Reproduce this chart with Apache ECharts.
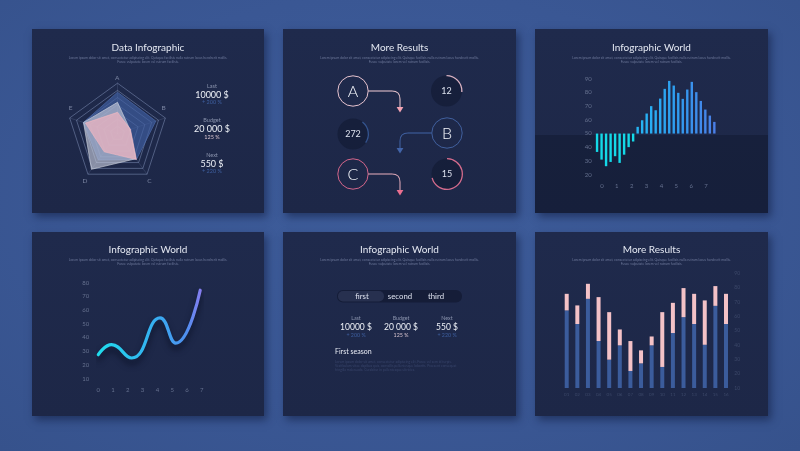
<!DOCTYPE html>
<html><head><meta charset="utf-8">
<script src="https://cdn.jsdelivr.net/npm/echarts@6/dist/echarts.min.js"></script>
<style>
html,body{margin:0;padding:0;width:800px;height:451px;overflow:hidden;background:#3b5896;}
.bg{position:absolute;left:0;top:0;width:800px;height:451px;background:radial-gradient(ellipse at 50% 45%, #3e5d9b 0%, #3a5794 60%, #36528c 100%);}
.panel{position:absolute;background:linear-gradient(180deg,#1f2a4c 0%,#1d2747 100%);box-shadow:3px 4px 8px rgba(15,25,60,0.55);}
.shade{position:absolute;background:rgba(10,15,35,0.32);}
#chart{position:absolute;left:0;top:0;width:800px;height:451px;}
</style></head><body>
<div class="bg"></div>
<div class="panel" style="left:32px;top:29px;width:232px;height:184px"></div>
<div class="panel" style="left:283px;top:29px;width:233px;height:184px"></div>
<div class="panel" style="left:535px;top:29px;width:233px;height:184px"></div>
<div class="shade" style="left:535px;top:135px;width:233px;height:78px"></div>
<div class="panel" style="left:32px;top:232px;width:232px;height:184px"></div>
<div class="panel" style="left:283px;top:232px;width:233px;height:184px"></div>
<div class="panel" style="left:535px;top:232px;width:233px;height:184px"></div>
<div id="chart"></div>
<script>
// ---------- DATA ----------
const panelTitles = ['Data Infographic','More Results','Infographic World','Infographic World','Infographic World','More Results'];
const loremLine1 = 'Lorem ipsum dolor sit amet, consectetur adipiscing elit. Quisque facilisis nulla rutrum lacus hendrerit mollis.';
const loremLine2 = 'Fusce vulputate lorem vel rutrum facilisis.';

// Panel 1 radar (indicators listed counter-clockwise from the top)
const radarIndicators = ['A','E','D','C','B'];
const radarBlue = [82, 71, 65, 64, 80];
const radarGrey = [62, 71, 88, 62, 26];
const radarPink = [42, 67, 45, 64, 27];
const statLabels = ['Last','Budget','Next'];
const statValues = ['10000 $','20 000 $','550 $'];
const statChanges = ['+ 200 %','125 %','+ 220 %'];

// Panel 2 flow
const flowLetters = ['A','B','C'];
const ringNumbers = ['12','272','15'];
const ringProgress = [26, 24, 71];

// Panel 3 wave bars
const waveValues = [36.6,31,26.2,29.3,33.5,28.6,34.6,40.1,44.2,54.9,59.7,64.6,70,67,75.5,82.6,88.4,85,79.7,75.3,82.1,87.7,80.2,73.8,67.5,63.1,58.5];
const waveBaseline = 50;

// Panel 4 line
const linePoints = [[0,27.5],[0.9,34.8],[2.26,25.1],[4.18,54.3],[5.24,36],[6.9,74.5]];

// Panel 5 tabs / stats
const tabLabels = ['first','second','third'];
const seasonTitle = 'First season';
const seasonText = ['Lorem ipsum dolor sit amet, consectetur adipiscing elit. Fusce vel sem id turpis.',
  'Vestibulum vitae dapibus quis, convallis pellentesque lobortis. Praesent consequat',
  'fringilla malesuada. Curabitur in pellentesque ultricies.'];

// Panel 6 stacked bars
const barCats = ['01','02','03','04','05','06','07','08','09','10','11','12','13','14','15','16'];
const barBlue = [64.2,54.7,72.3,42.8,29.8,39.8,21.9,27.2,39.8,24.7,48.4,59.5,54.7,40.2,67.4,54.7];
const barPink = [11.6,13.0,10.5,30.7,33.2,11.1,20.9,9.1,6.2,38.3,21.1,20.3,21.1,31.0,13.8,21.1];

// ---------- CHART ----------
const FONT = 'Lato, "Open Sans", sans-serif';
const chart = echarts.init(document.getElementById('chart'), null, {renderer:'canvas'});

function T(x, y, text, size, color, opt) {
  opt = opt || {};
  return {type:'text', x:x, y:y, z:10, silent:true,
    style:{text:text, fill:color, font:(opt.weight||'normal')+' '+size+'px '+FONT,
      align:opt.align||'center', verticalAlign:'middle', textAlign:opt.align||'center', textVerticalAlign:'middle'}};
}

const graphics = [];
// titles & lorem
const titlePos = [[148,48],[399.5,48],[651.5,48],[148,250],[399.5,250],[651.5,250]];
panelTitles.forEach((t,i) => {
  const p = titlePos[i];
  graphics.push(T(p[0], p[1], t, 10, '#e4e8f2'));
  graphics.push(T(p[0], p[1]+10, loremLine1, 3.4, '#6d789a'));
  graphics.push(T(p[0], p[1]+13.6, loremLine2, 3.4, '#6d789a'));
});

// radar letters
const radarLetterPos = {A:[117.3,77.5], B:[163.5,108], C:[149.5,180.7], D:[85,180.7], E:[70.7,108]};
radarIndicators.forEach(n => { const p = radarLetterPos[n]; graphics.push(T(p[0], p[1], n, 6.5, '#7c86a3')); });

// panel 1 stats
statLabels.forEach((l,i) => {
  const y0 = 86 + i*34.5;
  graphics.push(T(212, y0, l, 5.5, '#8a93ad'));
  graphics.push(T(212, y0+9, statValues[i], 9, '#eef1f7'));
  graphics.push(T(212, y0+16.5, statChanges[i], 5.5, i===1 ? '#d9c5cf' : '#3e5f9f'));
});

// panel 2 flow circles & arrows
const letterCircles = [{c:[353,91], stroke:'#e7c4cf'}, {c:[447,133], stroke:'#41609e'}, {c:[353,174], stroke:'#d3668b'}];
flowLetters.forEach((l,i) => {
  const lc = letterCircles[i];
  graphics.push({type:'circle', z:5, silent:true, shape:{cx:lc.c[0], cy:lc.c[1], r:15.2}, style:{fill:'rgba(0,0,0,0)', stroke:lc.stroke, lineWidth:1}});
  graphics.push(T(lc.c[0], lc.c[1]+0.5, l, 16, '#f2f4f9', {weight:'300'}));
});
const ringCenters = [[446.5,91],[353,134],[447,174]];
ringCenters.forEach(c => graphics.push({type:'circle', z:1, silent:true, shape:{cx:c[0], cy:c[1], r:15.5}, style:{fill:'rgba(14,20,42,0.45)'}}));
const arrows = [
  {x0:368.2, dir:1, y:91, line:'#e2c0ca', tri:'#f3a3b3', ty:107},
  {x0:431.8, dir:-1, y:133, line:'#3f5f9e', tri:'#4264a8', ty:148},
  {x0:368.2, dir:1, y:174, line:'#d9a4b4', tri:'#ea6f90', ty:190}
];
arrows.forEach(a => {
  const xc = 400 - a.dir*8;
  const st = {fill:null, stroke:a.line, lineWidth:1.1};
  graphics.push({type:'line', z:5, silent:true, shape:{x1:a.x0, y1:a.y, x2:xc, y2:a.y}, style:st});
  graphics.push({type:'bezierCurve', z:5, silent:true, shape:{x1:xc, y1:a.y, cpx1:400, cpy1:a.y, x2:400, y2:a.y+8}, style:st});
  graphics.push({type:'line', z:5, silent:true, shape:{x1:400, y1:a.y+8, x2:400, y2:a.ty}, style:st});
  graphics.push({type:'polygon', z:5, silent:true, shape:{points:[[396.6,a.ty],[403.4,a.ty],[400,a.ty+5.5]]}, style:{fill:a.tri}});
});

// panel 5 tabs
graphics.push({type:'rect', z:3, silent:true, shape:{x:337, y:290, width:125, height:12.5, r:6}, style:{fill:'#151d38'}});
graphics.push({type:'rect', z:4, silent:true, shape:{x:338, y:291, width:46, height:10.5, r:5}, style:{fill:'#27304f'}});
const tabX = [362, 400, 436];
tabLabels.forEach((t,i) => graphics.push(T(tabX[i], 296.2, t, 7.8, '#dde1ee')));
const stat5X = [356, 401, 447];
statLabels.forEach((l,i) => {
  graphics.push(T(stat5X[i], 318, l, 5.3, '#8a93ad'));
  graphics.push(T(stat5X[i], 327, statValues[i], 8.5, '#eef1f7'));
  graphics.push(T(stat5X[i], 335, statChanges[i], 5.3, i===1 ? '#d9c5cf' : '#3e5f9f'));
});
graphics.push(T(335, 352, seasonTitle, 7, '#e8ebf4', {align:'left'}));
seasonText.forEach((s,i) => graphics.push(T(335, 362+i*4, s, 3.4, '#38446a', {align:'left'})));

// derived wave stacks
const waveBase = waveValues.map(v => Math.min(v, waveBaseline));
const waveDown = waveValues.map(v => v < waveBaseline ? waveBaseline - v : 0);
const waveUp = waveValues.map(v => v > waveBaseline ? v - waveBaseline : 0);

const axisLbl = (c, s, m) => ({color:c, fontSize:s, margin:m, fontFamily:FONT});
const noAxis = {axisLine:{show:false}, axisTick:{show:false}, splitLine:{show:false}};

const option = {
  backgroundColor:'transparent',
  animation:false,
  graphic:{elements:graphics},
  grid:[
    {left:594.8, top:78.7, width:121.8, height:96, outerBoundsMode:'none'},
    {left:602, top:78.7, width:104, height:96, outerBoundsMode:'none'},
    {left:98.3, top:282.7, width:103.4, height:96, outerBoundsMode:'none'},
    {left:561.4, top:273.5, width:169.9, height:114.5, outerBoundsMode:'none'}
  ],
  xAxis:[
    Object.assign({gridIndex:0, type:'category', data:waveValues.map((v,i)=>i), show:false}, noAxis),
    Object.assign({gridIndex:1, type:'value', min:0, max:7, interval:1, axisLabel:axisLbl('#65708e',6,8)}, noAxis),
    Object.assign({gridIndex:2, type:'value', min:0, max:7, interval:1, axisLabel:axisLbl('#65708e',6,8)}, noAxis),
    Object.assign({gridIndex:3, type:'category', data:barCats, axisLabel:axisLbl('#3c4869',4.5,4)}, noAxis)
  ],
  yAxis:[
    Object.assign({gridIndex:0, type:'value', min:20, max:90, interval:10, axisLabel:axisLbl('#65708e',6,3)}, noAxis),
    {gridIndex:1, type:'value', show:false},
    Object.assign({gridIndex:2, type:'value', min:10, max:80, interval:10, axisLabel:axisLbl('#65708e',6,9)}, noAxis),
    Object.assign({gridIndex:3, type:'value', position:'right', min:10, max:90, interval:10, axisLabel:axisLbl('#3c4869',5,3)}, noAxis)
  ],
  radar:{
    center:[117.5,133.5], radius:50.3, startAngle:90, splitNumber:7, shape:'polygon',
    indicator: radarIndicators.map(n => ({name:n, max:100})),
    axisName:{show:false},
    splitLine:{lineStyle:{color:'rgba(140,155,195,0.6)', width:0.8}},
    splitArea:{show:false},
    axisLine:{lineStyle:{color:'rgba(140,155,195,0.3)', width:0.6}}
  },
  series:[
    {type:'radar', symbol:'none', z:3,
     data:[
      {value:radarBlue, lineStyle:{color:'#5a7bbd', width:0.6}, areaStyle:{color:'rgba(64,95,160,0.97)'}},
      {value:radarGrey, lineStyle:{color:'#dfe2ea', width:0.6}, areaStyle:{color:'rgba(200,205,220,0.9)'}},
      {value:radarPink, lineStyle:{color:'#f5bcc6', width:0.6}, areaStyle:{color:'rgba(244,182,193,0.96)'}}
     ]},
    ...ringNumbers.map((n,i) => ({
      type:'gauge', center:ringCenters[i], radius:16,
      startAngle: i===1 ? 52 : 90, endAngle: i===1 ? -308 : -270, min:0, max:100,
      progress:{show:true, width:1.3, itemStyle:{color:['#dbb3c3','#34548f','#d46c8d'][i]}},
      axisLine:{lineStyle:{width:1.3, color:[[1,'rgba(0,0,0,0)']]}},
      pointer:{show:false}, axisTick:{show:false}, splitLine:{show:false}, axisLabel:{show:false},
      title:{show:false}, anchor:{show:false},
      detail:{show:true, offsetCenter:[0,0], formatter:() => n, fontSize:9, color:'#dde2ee', fontFamily:FONT, fontWeight:'normal'},
      data:[{value:ringProgress[i]}]
    })),
    {type:'bar', xAxisIndex:0, yAxisIndex:0, stack:'w', data:waveBase, barWidth:2.4, itemStyle:{color:'rgba(0,0,0,0)'}, silent:true},
    {type:'bar', xAxisIndex:0, yAxisIndex:0, stack:'w', data:waveDown, barWidth:2.4, itemStyle:{color:'#14d9e8'}},
    {type:'bar', xAxisIndex:0, yAxisIndex:0, stack:'w', data:waveUp, barWidth:2.4,
     itemStyle:{color:new echarts.graphic.LinearGradient(636,0,716,0,[{offset:0,color:'#25b6f4'},{offset:0.5,color:'#2f9ef0'},{offset:1,color:'#4b7ee7'}], true)}},
    {type:'line', xAxisIndex:2, yAxisIndex:2, data:linePoints, smooth:0.5, showSymbol:false,
     lineStyle:{width:3.2, cap:'round', shadowColor:'rgba(5,10,30,0.75)', shadowBlur:6, shadowOffsetY:5,
       color:new echarts.graphic.LinearGradient(98,0,202,0,[{offset:0,color:'#20dced'},{offset:0.55,color:'#36aef1'},{offset:0.85,color:'#4f8ff0'},{offset:1,color:'#8a7cf0'}], true)}},
    {type:'bar', xAxisIndex:3, yAxisIndex:3, stack:'s6', data:barBlue, barWidth:4, itemStyle:{color:'#3b5c9c'}},
    {type:'bar', xAxisIndex:3, yAxisIndex:3, stack:'s6', data:barPink, barWidth:4, itemStyle:{color:'#f4c2c7'}}
  ]
};
chart.setOption(option);
</script>
</body></html>
